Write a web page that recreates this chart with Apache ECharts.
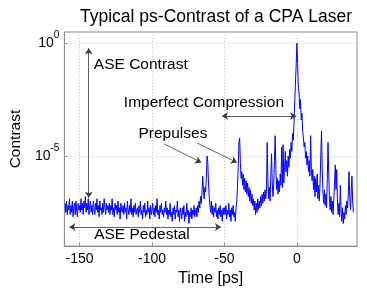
<!DOCTYPE html>
<html>
<head>
<meta charset="utf-8">
<script src="https://cdn.jsdelivr.net/npm/echarts@6/dist/echarts.min.js"></script>
<style>
  html, body { margin: 0; padding: 0; background: #fff; }
  #contrastChart { width: 367px; height: 292px; }
</style>
</head>
<body>
<div id="contrastChart"></div>
<script>
// sampling grid of the measurement, ps
var timeStart = -160;
var timeStep = 0.5;

// log10(contrast), one row = 10 ps
var logContrast = [
  -7.1,-7.5,-7.0,-7.6,-7.2,-7.4,-6.9,-7.6,-7.2,-7.5,-7.0,-7.7,-7.3,-7.1,-7.6,-7.0,-7.4,-7.7,-7.1,-7.4,
  -7.2,-7.5,-6.9,-7.4,-7.1,-7.6,-7.0,-7.3,-6.8,-7.5,-7.1,-7.4,-6.9,-7.6,-7.2,-7.0,-7.5,-7.2,-7.6,-7.0,
  -7.3,-7.6,-7.1,-7.4,-6.9,-7.5,-7.2,-7.7,-7.0,-7.4,-7.3,-7.6,-7.1,-7.5,-6.9,-7.3,-7.6,-7.1,-7.4,-7.2,
  -7.5,-7.1,-7.6,-7.2,-7.4,-6.9,-7.6,-7.3,-7.7,-7.1,-7.4,-7.2,-7.6,-7.0,-7.5,-7.3,-7.8,-7.1,-7.4,-7.5,
  -7.2,-7.6,-7.1,-7.5,-7.3,-7.8,-7.0,-7.4,-7.6,-7.2,-7.5,-6.9,-7.6,-7.3,-7.7,-7.2,-7.5,-7.1,-7.6,-7.4,
  -7.3,-7.7,-7.2,-7.5,-7.0,-7.6,-7.4,-7.8,-7.2,-7.5,-7.1,-7.7,-7.4,-7.6,-7.0,-7.5,-7.3,-7.8,-7.2,-7.6,
  -7.4,-7.1,-7.6,-7.3,-7.7,-7.2,-7.5,-6.9,-7.6,-7.4,-7.8,-7.2,-7.5,-7.1,-7.6,-7.4,-7.7,-7.3,-7.5,-7.0,
  -7.6,-7.3,-7.8,-7.4,-7.6,-7.1,-7.7,-7.5,-7.9,-7.3,-7.6,-7.2,-7.8,-7.4,-7.5,-7.0,-7.7,-7.4,-7.9,-7.3,
  -7.5,-7.8,-7.3,-7.6,-7.2,-7.9,-7.5,-7.7,-7.1,-7.6,-7.4,-8.0,-7.5,-7.7,-7.3,-7.8,-7.4,-7.6,-7.2,-7.7,
  -7.5,-7.3,-7.7,-7.2,-7.5,-7.0,-7.3,-6.8,-7.1,-6.6,-5.9,-6.5,-6.9,-6.4,-6.6,-6.0,-5.0,-5.3,-6.2,-6.8,
  -7.2,-7.5,-7.0,-7.6,-7.2,-7.7,-7.3,-7.5,-7.1,-7.7,-7.4,-7.8,-7.3,-7.6,-7.2,-7.7,-7.4,-7.9,-7.3,-7.6,
  -7.3,-7.6,-7.2,-7.8,-7.4,-7.6,-7.1,-7.7,-7.4,-7.9,-7.3,-7.6,-7.2,-7.7,-7.5,-7.9,-7.3,-7.0,-6.4,-5.5,
  -4.4,-4.2,-5.3,-6.0,-5.7,-6.3,-5.8,-6.5,-6.0,-6.6,-6.1,-6.7,-6.2,-6.8,-6.4,-7.0,-6.5,-7.1,-6.7,-7.2,
  -6.9,-7.4,-7.0,-7.6,-7.1,-7.5,-6.9,-7.4,-7.0,-7.3,-6.8,-7.2,-6.7,-7.1,-6.6,-7.0,-6.5,-6.9,-6.6,-4.4,
  -6.0,-6.9,-6.4,-7.0,-5.9,-4.9,-6.2,-6.8,-6.3,-5.2,-4.1,-5.6,-6.5,-6.0,-6.7,-6.1,-6.6,-5.8,-6.3,-4.6,
  -6.4,-4.5,-6.2,-5.5,-4.8,-5.7,-5.2,-5.9,-5.0,-5.5,-4.7,-5.1,-4.4,-4.8,-4.0,-4.3,-3.6,-2.6,-1.8,-1.0,
   0.0,-0.9,-1.9,-2.2,-2.9,-2.5,-3.4,-3.1,-3.9,-4.2,-4.6,-4.4,-5.1,-4.8,-5.4,-5.0,-5.7,-5.2,-5.9,-4.1,
  -5.6,-6.1,-5.6,-6.5,-5.9,-6.8,-6.0,-6.6,-5.8,-6.9,-6.3,-7.0,-6.2,-5.0,-3.9,-5.6,-6.6,-7.1,-6.5,-7.2,
  -6.7,-7.3,-6.0,-4.4,-5.8,-6.9,-7.4,-6.8,-7.5,-7.0,-7.6,-6.9,-6.2,-5.4,-6.5,-5.6,-7.0,-7.6,-7.1,-7.7,
  -6.3,-7.4,-7.9,-7.3,-8.0,-7.5,-7.8,-7.2,-7.6,-7.0,-7.3,-6.7,-5.7,-6.8,-7.4,-6.6,-5.9,-7.0,-7.5
];

var xTicks = [-150, -100, -50, 0];
var yTickExps = [-5, 0];

var seriesData = logContrast.map(function (v, i) {
  return [timeStart + i * timeStep, v];
});

var font = "'Liberation Sans', Arial, sans-serif";
var arrowColor = "#3a3a3a";

var chart = echarts.init(document.getElementById("contrastChart"));
var option = {
  animation: false,
  title: {
    text: "Typical ps-Contrast of a CPA Laser",
    left: 211,
    top: 3,
    textAlign: "center",
    textStyle: { color: "#000", fontSize: 17.5, fontWeight: "normal", fontFamily: font },
  },
  grid: {
    left: 64,
    right: 10,
    top: 32,
    bottom: 42,
    show: true,
    borderColor: "#8c8c8c",
    borderWidth: 1,
  },
  xAxis: {
    type: "value",
    min: -160.5,
    max: 41.5,
    name: "Time [ps]",
    nameLocation: "middle",
    nameGap: 17,
    nameTextStyle: { color: "#000", fontSize: 16, fontFamily: font },
    axisLine: { onZero: false, lineStyle: { color: "#8c8c8c" } },
    axisTick: { inside: true, length: 3, customValues: xTicks, lineStyle: { color: "#8c8c8c" } },
    axisLabel: { customValues: xTicks, color: "#000", fontSize: 14, margin: 6, fontFamily: font },
    splitLine: { show: true, lineStyle: { color: "#c8c8c8", type: [1, 2] } },
  },
  yAxis: {
    type: "value",
    min: -9,
    max: 0.5,
    name: "Contrast",
    nameLocation: "middle",
    nameRotate: 90,
    nameGap: 32,
    nameTextStyle: { color: "#000", fontSize: 15.5, fontFamily: font },
    axisLine: { show: true, onZero: false, lineStyle: { color: "#8c8c8c" } },
    axisTick: { inside: true, length: 3, customValues: yTickExps, lineStyle: { color: "#8c8c8c" } },
    axisLabel: {
      customValues: yTickExps,
      margin: 5,
      fontFamily: font,
      formatter: function (v) {
        return "{b|10}{s|" + v + "}";
      },
      rich: {
        b: { fontSize: 14, lineHeight: 14, color: "#000", fontFamily: font },
        s: { fontSize: 10, lineHeight: 10, padding: [0, 0, 16, 0], color: "#000", fontFamily: font },
      },
    },
    splitLine: { show: true, lineStyle: { color: "#c8c8c8", type: [1, 2] } },
  },
  series: [
    {
      type: "line",
      data: seriesData,
      showSymbol: false,
      symbol: "none",
      lineStyle: { color: "#0000ff", width: 1 },
      z: 3,
    },
    {
      type: "line",
      data: [],
      z: 5,
      markLine: {
        silent: true,
        symbolSize: 6,
        label: { show: false },
        lineStyle: { color: arrowColor, width: 0.8, type: "solid" },
        data: [
          [{ coord: [-143.7, -6.86], symbol: "arrow" }, { coord: [-143.7, -0.22], symbol: "arrow" }],
          [{ coord: [-51.7, -3.23], symbol: "arrow" }, { coord: [-0.5, -3.23], symbol: "arrow" }],
          [{ coord: [-91.5, -4.47], symbol: "none" }, { coord: [-66, -5.29], symbol: "arrow" }],
          [{ coord: [-69, -4.42], symbol: "none" }, { coord: [-41.4, -5.29], symbol: "arrow" }],
          [{ coord: [-157, -8.15], symbol: "arrow" }, { coord: [-52.4, -8.15], symbol: "arrow" }],
        ],
      },
      markPoint: {
        silent: true,
        symbol: "circle",
        symbolSize: 1,
        itemStyle: { color: "rgba(0,0,0,0)" },
        label: {
          show: true,
          position: "right",
          distance: 0,
          formatter: "{b}",
          color: "#000",
          fontSize: 15.5,
          fontFamily: font,
        },
        data: [
          { name: "ASE Contrast", coord: [-140.5, -0.97] },
          { name: "Imperfect Compression", coord: [-119.8, -2.66] },
          { name: "Prepulses", coord: [-109.7, -4.03] },
          { name: "ASE Pedestal", coord: [-140.3, -8.48] },
        ],
      },
    },
  ],
};
chart.setOption(option);
</script>
</body>
</html>
